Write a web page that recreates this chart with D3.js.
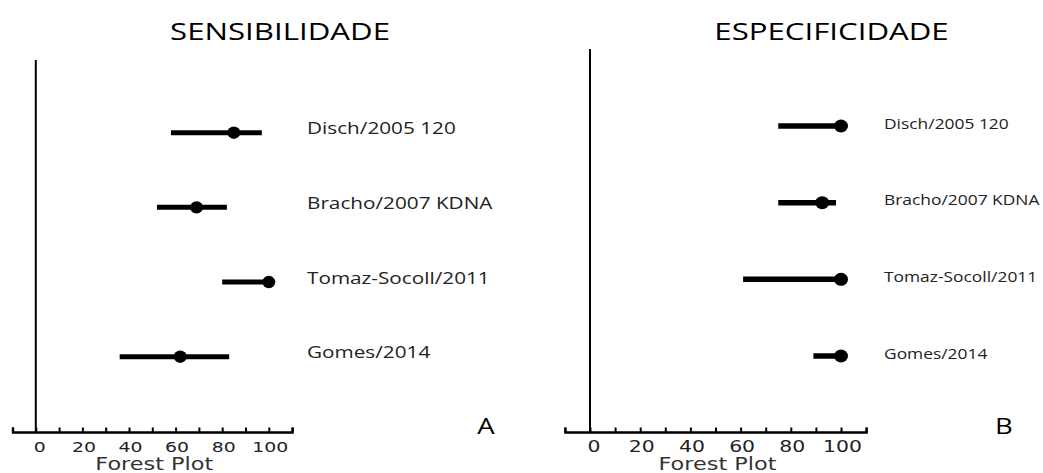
<!DOCTYPE html>
<html>
<head>
<meta charset="utf-8">
<script src="https://cdn.jsdelivr.net/npm/d3@7"></script>
<style>
  html, body { margin: 0; padding: 0; background: #fff; }
  svg { display: block; }
</style>
</head>
<body>
<svg id="chart" width="1043" height="473"></svg>
<script>
// Studies shown on both forest plots
const studies = ["Disch/2005 120", "Bracho/2007 KDNA", "Tomaz-Socoll/2011", "Gomes/2014"];

// Sensitivity (%): point estimate and confidence interval
const sensEstimate = [85, 69, 100, 62];
const sensLower = [58, 52, 80, 36];
const sensUpper = [97, 82, 100, 83];

// Specificity (%): point estimate and confidence interval
const specEstimate = [100, 92.5, 100, 100];
const specLower = [75, 75, 61, 89];
const specUpper = [100, 98, 100, 100];

// Axis ticks
const tickValues = [-10, 0, 10, 20, 30, 40, 50, 60, 70, 80, 90, 100, 110];
const tickLabels = [0, 20, 40, 60, 80, 100];

const panelTitles = ["SENSIBILIDADE", "ESPECIFICIDADE"];
const panelLetters = ["A", "B"];
const axisTitle = "Forest Plot";

const svg = d3.select("#chart");

const panels = [
  {
    title: panelTitles[0], letter: panelLetters[0],
    est: sensEstimate, lo: sensLower, hi: sensUpper,
    xRange: [12.5, 292.1], rows: [132.7, 356.7], axisY: 432, zeroTop: 60,
    labelX: 307, labelSize: 17, labelSx: 1.22, labelDy: 1.5,
    titleX: 280, letterX: 486,
    tickSize: 14.5, tickSx: 1.3, lineW: 5, dotRx: 6.5, dotRy: 6.2
  },
  {
    title: panelTitles[1], letter: panelLetters[1],
    est: specEstimate, lo: specLower, hi: specUpper,
    xRange: [564.9, 866.1], rows: [126, 356], axisY: 432, zeroTop: 49,
    labelX: 884, labelSize: 14.5, labelSx: 1.2, labelDy: 2.5,
    titleX: 831.5, letterX: 1004,
    tickSize: 15, tickSx: 1.36, lineW: 5.5, dotRx: 7, dotRy: 6.5
  }
];

const calibriLike = "'Open Sans', 'Noto Sans', sans-serif";
const verdanaLike = "'DejaVu Sans', Verdana, sans-serif";

panels.forEach(p => {
  const g = svg.append("g");

  const x = d3.scaleLinear().domain([-10, 110]).range(p.xRange);
  const y = d3.scalePoint().domain(studies).range(p.rows);

  // Title
  g.append("text")
    .attr("transform", `translate(${p.titleX},40) scale(1.3,1)`)
    .attr("text-anchor", "middle")
    .attr("font-family", calibriLike)
    .attr("font-size", 24)
    .attr("fill", "#000")
    .text(p.title);

  // Panel letter
  g.append("text")
    .attr("transform", `translate(${p.letterX},434) scale(1.25,1)`)
    .attr("text-anchor", "middle")
    .attr("font-family", calibriLike)
    .attr("font-size", 22)
    .attr("fill", "#000")
    .text(p.letter);

  // Bottom axis with upward ticks
  const axis = d3.axisBottom(x)
    .tickValues(tickValues)
    .tickSizeInner(-4.5)
    .tickSizeOuter(-4.5)
    .tickFormat("");
  const ax = g.append("g")
    .attr("transform", `translate(0,${p.axisY})`)
    .call(axis);
  ax.select(".domain").attr("stroke", "#000").attr("stroke-width", 2.4);
  ax.selectAll(".tick line").attr("stroke", "#000").attr("stroke-width", 2);

  // Tick labels
  g.selectAll("text.tl")
    .data(tickLabels)
    .join("text")
    .attr("class", "tl")
    .attr("transform", d => `translate(${x(d) + (d === 0 ? 4 : 1.5)},${p.axisY + 20}) scale(${p.tickSx},1)`)
    .attr("text-anchor", "middle")
    .attr("font-family", verdanaLike)
    .attr("font-size", p.tickSize)
    .attr("fill", "#222")
    .text(d => d);

  // Axis title
  g.append("text")
    .attr("transform", `translate(${x(50) + 2},${p.axisY + 38}) scale(1.28,1)`)
    .attr("text-anchor", "middle")
    .attr("font-family", verdanaLike)
    .attr("font-size", 17.5)
    .attr("fill", "#333")
    .text(axisTitle);

  // Line of zero effect
  g.append("line")
    .attr("x1", x(0)).attr("x2", x(0))
    .attr("y1", p.zeroTop).attr("y2", p.axisY)
    .attr("stroke", "#000")
    .attr("stroke-width", 2);

  const rows = studies.map((s, i) => ({ s, est: p.est[i], lo: p.lo[i], hi: p.hi[i] }));

  // Confidence intervals
  g.selectAll("line.ci")
    .data(rows)
    .join("line")
    .attr("class", "ci")
    .attr("x1", d => x(d.lo)).attr("x2", d => x(d.hi))
    .attr("y1", d => y(d.s)).attr("y2", d => y(d.s))
    .attr("stroke", "#000")
    .attr("stroke-width", p.lineW);

  // Point estimates
  g.selectAll("ellipse.pt")
    .data(rows)
    .join("ellipse")
    .attr("class", "pt")
    .attr("cx", d => x(d.est))
    .attr("cy", d => y(d.s))
    .attr("rx", p.dotRx).attr("ry", p.dotRy)
    .attr("fill", "#000");

  // Study labels
  g.selectAll("text.study")
    .data(rows)
    .join("text")
    .attr("class", "study")
    .attr("transform", d => `translate(${p.labelX},${y(d.s) + p.labelDy}) scale(${p.labelSx},1)`)
    .attr("font-family", calibriLike)
    .attr("font-size", p.labelSize)
    .attr("fill", "#222")
    .text(d => d.s);
});
</script>
</body>
</html>
